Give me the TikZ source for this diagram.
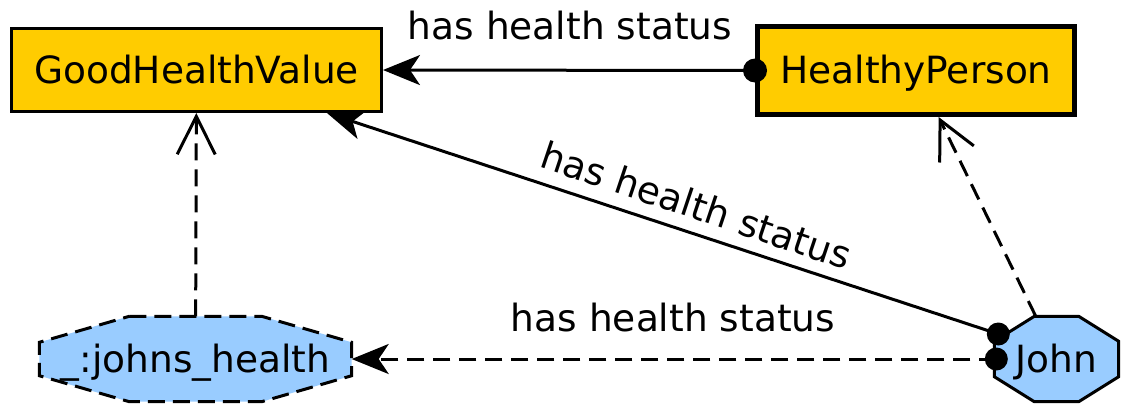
\documentclass[tikz,border=0pt]{standalone}
\usepackage{fontspec}
\setmainfont{DejaVu Sans}
\usetikzlibrary{arrows.meta,calc,backgrounds}
\definecolor{classyellow}{HTML}{FFCC00}
\definecolor{indblue}{HTML}{99CCFF}
\newcommand\myoct[4]{%
  \filldraw[#4] ($(#1.north west)+(#2,0)$) -- ($(#1.north east)+(-#2,0)$) -- ($(#1.north east)+(0,#3)$) -- ($(#1.south east)+(0,-#3)$) -- ($(#1.south east)+(-#2,0)$) -- ($(#1.south west)+(#2,0)$) -- ($(#1.south west)+(0,-#3)$) -- ($(#1.north west)+(0,#3)$) -- cycle;}
\begin{document}
\begin{tikzpicture}[x=1pt,y=-1pt,
  every node/.style={font=\fontsize{37.5pt}{40pt}\selectfont, inner sep=0pt},
  txt/.style={text height=28pt, text depth=2pt},
  classbox/.style={txt, draw, fill=classyellow, rectangle},
  indnode/.style={txt, rectangle},
  octsolid/.style={draw=black, fill=indblue, line width=3pt},
  octdashed/.style={draw=black, fill=indblue, line width=3pt, dash pattern=on 17pt off 8pt},
  prop/.style={line width=3pt, -{Stealth[length=37pt,width=30pt,inset=10pt]}},
  dashprop/.style={prop, dash pattern=on 17pt off 9pt},
  subcls/.style={line width=3pt, dash pattern=on 17pt off 9pt, -{Straight Barb[length=38pt,width=38pt,line width=3pt]}},
  dot/.style={fill=black},
  lbl/.style={txt}
]
\useasboundingbox (0,0) rectangle (1127,405);

\node[classbox, line width=3pt, minimum width=370pt, minimum height=83pt] (GHV) at (196.5,70) {GoodHealthValue};
\node[classbox, line width=5pt, minimum width=317pt, minimum height=88pt] (HP) at (916,70.5) {HealthyPerson};
\node[indnode, minimum width=124pt, minimum height=85pt] (John) at (1056.5,359) {John};
\node[indnode, minimum width=312pt, minimum height=85pt] (JH) at (195.5,359) {\_:johns\_health};

\begin{scope}[on background layer]
  \myoct{John}{40}{25}{octsolid}
  \myoct{JH}{90}{26}{octdashed}
\end{scope}

\coordinate (Jdot) at ($(John.west)+(4,-25)$);
\coordinate (Jdot2) at ($(John.west)+(2,0)$);

% HealthyPerson -> GoodHealthValue
\draw[prop] (HP.west) -- (GHV.east);
\fill[dot] (HP.west) circle[radius=12pt];
\node[lbl] (l1) at (570,26) {has health status};

% John -> GoodHealthValue
\draw[prop] (Jdot) -- (GHV);
\node[lbl, rotate=-18.5] (l2) at (696,206) {has health status};

% John -> johns_health
\draw[dashprop] (Jdot2) -- (JH.east);
\node[lbl] (l3) at (673,318) {has health status};

\fill[dot] (Jdot) circle[radius=11.5pt];
\fill[dot] (Jdot2) circle[radius=11.5pt];

% instance-of
\draw[subcls] (JH) -- (GHV);
\draw[subcls] (John) -- (HP);
\end{tikzpicture}
\end{document}
